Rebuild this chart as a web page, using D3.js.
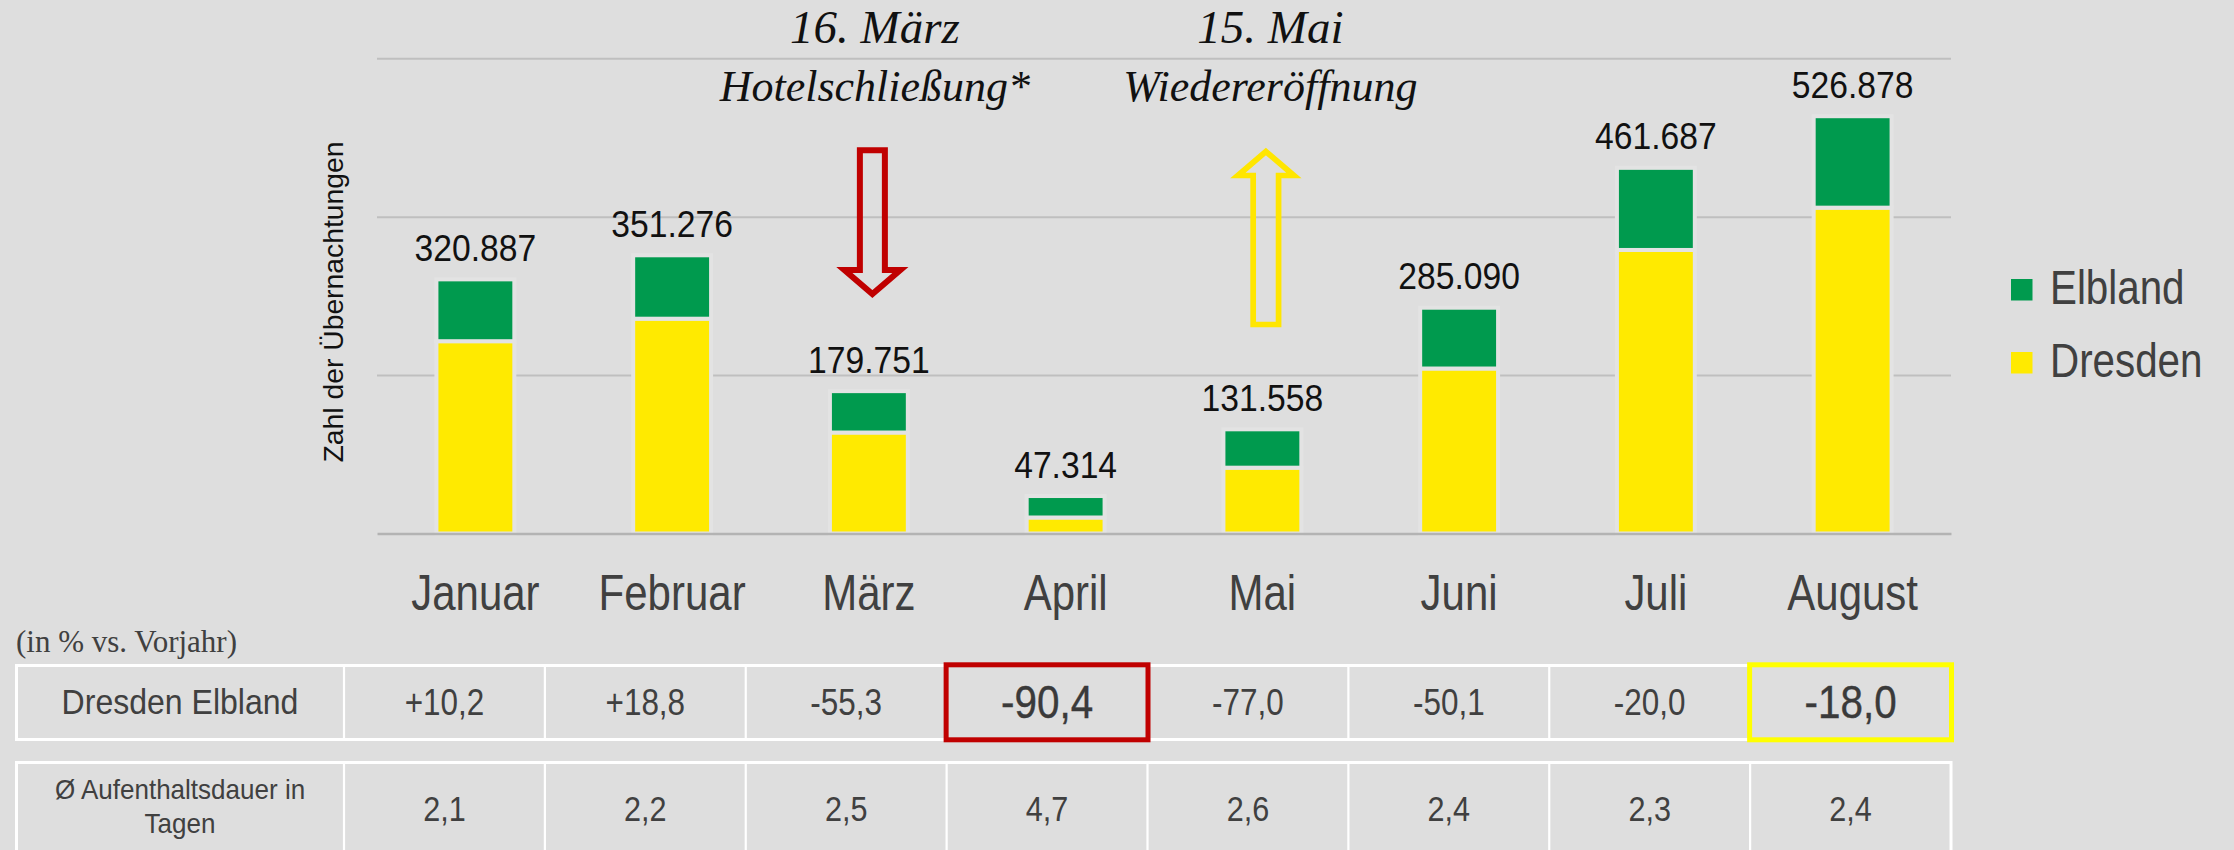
<!DOCTYPE html>
<html><head><meta charset="utf-8">
<script src="https://cdn.jsdelivr.net/npm/d3@7"></script>
<style>
html,body{margin:0;padding:0;background:#dedede;}
svg{display:block;}
</style></head>
<body>
<svg id="chart" width="2234" height="850"></svg>
<script>
// ---------- DATA ----------
const months = ["Januar","Februar","März","April","Mai","Juni","Juli","August"];
const dresden = [242800, 271200, 127500, 20200, 83100, 208300, 358000, 411400];
const elbland = [78087, 80076, 52251, 27114, 48458, 76790, 103687, 115478];
const yTicks = [0, 200000, 400000, 600000];
const seriesNames = ["Elbland", "Dresden"];
const changePct = [10.2, 18.8, -55.3, -90.4, -77.0, -50.1, -20.0, -18.0];
const stayDays = [2.1, 2.2, 2.5, 4.7, 2.6, 2.4, 2.3, 2.4];
const rowLabels = ["Dresden Elbland", ["Ø Aufenthaltsdauer in", "Tagen"]];
const tableNote = "(in % vs. Vorjahr)";
const yTitle = "Zahl der Übernachtungen";
const annotations = [
  {month: "März", lines: ["16. März", "Hotelschließung*"], dir: "down"},
  {month: "Mai", lines: ["15. Mai", "Wiedereröffnung"], dir: "up"}
];
const highlights = [{month: "April", color: "#c00000"}, {month: "August", color: "#ffff00"}];

// ---------- SETUP ----------
const locale = d3.formatLocale({decimal: ",", thousands: ".", grouping: [3], currency: ["", "€"], minus: "-"});
const fmtTotal = locale.format(",d");
const fmtPct = locale.format("+.1f");
const fmtDays = locale.format(".1f");

const svg = d3.select("#chart");
const W = 2234, H = 850;
svg.append("rect").attr("width", W).attr("height", H).attr("fill", "#dedede");

const plot = {left: 377, right: 1951, top: 58.3, bottom: 533.5};
const x = d3.scaleBand().domain(months).range([plot.left, plot.right]).paddingInner(0.604).paddingOuter(0.302);
const y = d3.scaleLinear().domain([0, 600000]).range([plot.bottom, plot.top]);

const SANS = "'Liberation Sans', Arial, sans-serif";
const SERIF = "'Liberation Serif', 'Times New Roman', serif";

function ctext(parent, tx, ty, txt, size, sx, opts = {}) {
  const g = parent.append("g").attr("transform", `translate(${tx},${ty}) scale(${sx},1)`);
  const t = g.append("text")
    .attr("text-anchor", opts.anchor || "middle")
    .attr("font-family", opts.family || SANS)
    .attr("font-size", size)
    .attr("fill", opts.fill || "#404040")
    .text(txt);
  if (opts.stroke) t.attr("stroke", opts.fill || "#404040").attr("stroke-width", opts.stroke);
  if (opts.style) t.attr("font-style", opts.style);
  return t;
}

// gridlines
const grid = svg.append("g").attr("transform", `translate(${plot.left},0)`)
  .call(d3.axisLeft(y).tickValues(yTicks.slice(1)).tickSize(-(plot.right - plot.left)).tickFormat(""));
grid.select(".domain").remove();
grid.selectAll(".tick line").attr("stroke", "#bfbfbf").attr("stroke-width", 2);

// stacked bars
const stackData = months.map((m, i) => ({month: m, Dresden: dresden[i], Elbland: elbland[i]}));
const stack = d3.stack().keys(["Dresden", "Elbland"])(stackData);
const colors = {Dresden: "#ffea00", Elbland: "#009a4e"};
svg.append("g").selectAll("g").data(stack).join("g")
  .attr("fill", d => colors[d.key])
  .selectAll("rect").data(d => d).join("rect")
  .attr("x", d => x(d.data.month))
  .attr("width", x.bandwidth())
  .attr("y", d => y(d[1]))
  .attr("height", d => y(d[0]) - y(d[1]))
  .attr("stroke", "#e3e3e3").attr("stroke-width", 4);

// baseline axis
const xAxis = svg.append("g").attr("transform", `translate(0,${y(0)})`)
  .call(d3.axisBottom(x).tickSize(0).tickFormat(""));
xAxis.select(".domain").attr("stroke", "#b3b3b3").attr("stroke-width", 2.5);

// month labels
months.forEach(m => ctext(svg, x(m) + x.bandwidth() / 2, 610, m, 50, 0.84, {fill: "#404040"}));

// total labels
stackData.forEach(d => {
  const tot = d.Dresden + d.Elbland;
  ctext(svg, x(d.month) + x.bandwidth() / 2, y(tot) - 18.5, fmtTotal(tot), 37.4, 0.9, {fill: "#111"});
});

// y title
svg.append("text")
  .attr("transform", `translate(343,302) rotate(-90)`)
  .attr("text-anchor", "middle")
  .attr("font-family", SANS).attr("font-size", 28.3).attr("fill", "#111")
  .text(yTitle);

// legend
const legendY = [279, 352];
seriesNames.forEach((s, i) => {
  svg.append("rect").attr("x", 2011).attr("y", legendY[i]).attr("width", 21.5).attr("height", 21.5).attr("fill", colors[s]);
  ctext(svg, 2050, legendY[i] + 24.5, s, 48.6, 0.83, {anchor: "start", fill: "#404040"});
});

// annotations and arrows
annotations.forEach(a => {
  const cx = x(a.month) + x.bandwidth() / 2;
  const tx = cx + (a.dir === "down" ? 6 : 8);
  svg.append("text").attr("x", tx).attr("y", 43).attr("text-anchor", "middle")
    .attr("font-family", SERIF).attr("font-style", "italic").attr("font-size", 47).attr("fill", "#111").text(a.lines[0]);
  svg.append("text").attr("x", tx).attr("y", 101).attr("text-anchor", "middle")
    .attr("font-family", SERIF).attr("font-style", "italic").attr("font-size", 44).attr("fill", "#111").text(a.lines[1]);
  const ax = cx + 3.5;
  let pts;
  if (a.dir === "down") {
    const top = 150.3, hb = 270, tip = 294, sw = 12.5, hw = 28;
    pts = [[ax - sw, top], [ax + sw, top], [ax + sw, hb], [ax + hw, hb], [ax, tip], [ax - hw, hb], [ax - sw, hb]];
    svg.append("polygon").attr("points", pts.map(p => p.join(",")).join(" "))
      .attr("fill", "none").attr("stroke", "#c00000").attr("stroke-width", 6).attr("stroke-linejoin", "miter");
  } else {
    const bot = 324.5, hb = 175.5, tip = 151.5, sw = 12.7, hw = 28;
    pts = [[ax - sw, bot], [ax + sw, bot], [ax + sw, hb], [ax + hw, hb], [ax, tip], [ax - hw, hb], [ax - sw, hb]];
    svg.append("polygon").attr("points", pts.map(p => p.join(",")).join(" "))
      .attr("fill", "none").attr("stroke", "#ffe600").attr("stroke-width", 5.7).attr("stroke-linejoin", "miter");
  }
});

// ---------- TABLE ----------
const tx = d3.scaleBand().domain(months).range([344, 1951]);
const tLeft = 16.5;
ctext(svg, 16, 652, tableNote, 31, 1, {anchor: "start", family: SERIF, fill: "#404040"});

const rows = [{y0: 665.5, y1: 739.5}, {y0: 762.5, y1: 900}];
const tbl = svg.append("g");
rows.forEach(r => {
  tbl.append("rect").attr("x", tLeft).attr("y", r.y0).attr("width", 1951 - tLeft).attr("height", r.y1 - r.y0)
    .attr("fill", "none").attr("stroke", "#ffffff").attr("stroke-width", 3);
  months.forEach(m => {
    tbl.append("line").attr("x1", tx(m)).attr("x2", tx(m)).attr("y1", r.y0).attr("y2", r.y1)
      .attr("stroke", "#ffffff").attr("stroke-width", 2.2);
  });
});

// row 1
ctext(svg, 180, 714, rowLabels[0], 36, 0.89);
months.forEach((m, i) => {
  const hl = highlights.find(h => h.month === m);
  const cx = tx(m) + tx.bandwidth() / 2;
  if (hl) {
    ctext(svg, cx, 718.3, fmtPct(changePct[i]), 47, 0.86, {stroke: 0.4, fill: "#3a3a3a"});
  } else {
    ctext(svg, cx, 715, fmtPct(changePct[i]), 37, 0.85);
  }
});
highlights.forEach(h => {
  svg.append("rect").attr("x", tx(h.month) - 0.5).attr("y", 664.8).attr("width", tx.bandwidth() + 1).attr("height", 75)
    .attr("fill", "none").attr("stroke", h.color).attr("stroke-width", 5);
});

// row 2
ctext(svg, 180, 799.3, rowLabels[1][0], 28, 0.93);
ctext(svg, 180, 833.3, rowLabels[1][1], 28, 0.93);
months.forEach((m, i) => {
  ctext(svg, tx(m) + tx.bandwidth() / 2, 820.7, fmtDays(stayDays[i]), 36, 0.85);
});
</script>
</body></html>
